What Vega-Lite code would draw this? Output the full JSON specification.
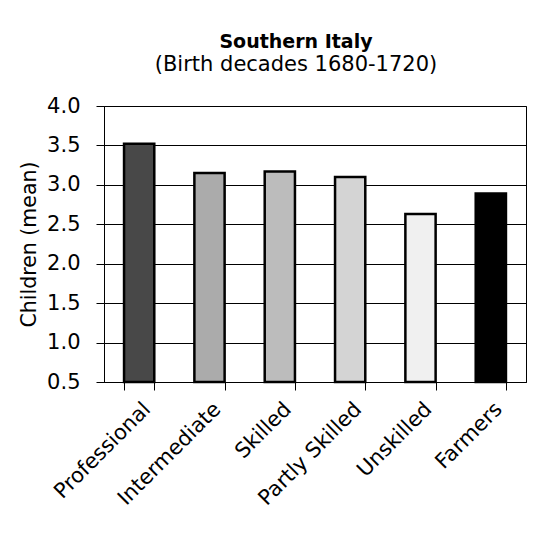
{
  "$schema": "https://vega.github.io/schema/vega-lite/v6.json",
  "width": 422,
  "height": 276,
  "autosize": {"type": "none"},
  "padding": {"left": 104, "top": 106, "right": 24, "bottom": 151},
  "background": "white",
  "title": {
    "text": "Southern Italy",
    "subtitle": "(Birth decades 1680-1720)",
    "anchor": "middle",
    "dx": -19,
    "font": "DejaVu Sans",
    "fontSize": 19,
    "fontWeight": "bold",
    "color": "black",
    "subtitleFont": "DejaVu Sans",
    "subtitleFontSize": 21,
    "subtitleColor": "black",
    "subtitlePadding": 2,
    "offset": 20
  },
  "data": {
    "values": [
      {"group": "Professional", "children": 3.52},
      {"group": "Intermediate", "children": 3.15},
      {"group": "Skilled", "children": 3.17},
      {"group": "Partly Skilled", "children": 3.10},
      {"group": "Unskilled", "children": 2.63},
      {"group": "Farmers", "children": 2.89}
    ]
  },
  "mark": {"type": "bar", "stroke": "black", "strokeWidth": 2.5},
  "encoding": {
    "x": {
      "field": "group",
      "type": "nominal",
      "sort": null,
      "title": null,
      "scale": {"paddingInner": 0.57, "paddingOuter": 0.285},
      "axis": {
        "labelAngle": -45,
        "labelAlign": "right",
        "labelBaseline": "top",
        "labelFont": "DejaVu Sans",
        "labelFontSize": 21,
        "labelColor": "black",
        "labelPadding": 8,
        "labelLimit": 400,
        "tickBand": "extent",
        "tickColor": "black",
        "tickSize": 8,
        "domainColor": "black",
        "grid": false
      }
    },
    "y": {
      "field": "children",
      "type": "quantitative",
      "title": "Children (mean)",
      "scale": {"domain": [0.5, 4.0], "zero": false, "nice": false},
      "axis": {
        "values": [0.5, 1.0, 1.5, 2.0, 2.5, 3.0, 3.5, 4.0],
        "format": ".1f",
        "labelFont": "DejaVu Sans",
        "labelFontSize": 21,
        "labelColor": "black",
        "labelPadding": 16,
        "tickColor": "black",
        "tickSize": 8,
        "domainColor": "black",
        "grid": true,
        "gridColor": "black",
        "gridOpacity": 1,
        "titleFont": "DejaVu Sans",
        "titleFontSize": 20.5,
        "titleFontWeight": "normal",
        "titleColor": "black",
        "titlePadding": 7
      }
    },
    "y2": {"datum": 0.5},
    "fill": {
      "field": "group",
      "type": "nominal",
      "legend": null,
      "scale": {
        "domain": ["Professional", "Intermediate", "Skilled", "Partly Skilled", "Unskilled", "Farmers"],
        "range": ["#484848", "#ababab", "#bcbcbc", "#d4d4d4", "#f0f0f0", "#000000"]
      }
    }
  },
  "config": {
    "view": {"stroke": "black", "strokeWidth": 1}
  }
}
